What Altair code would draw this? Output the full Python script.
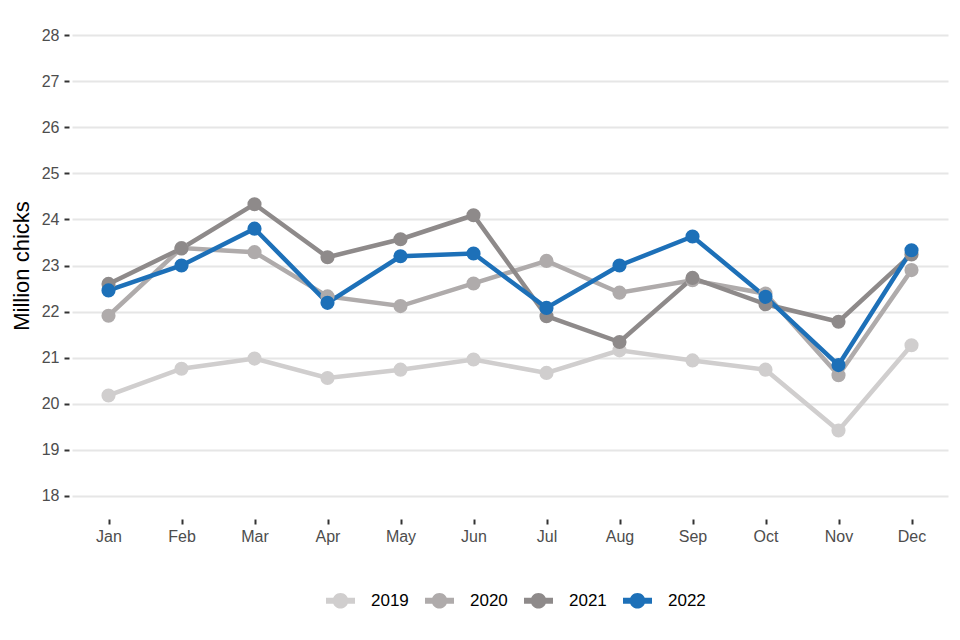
import altair as alt
import pandas as pd

months = ["Jan", "Feb", "Mar", "Apr", "May", "Jun", "Jul", "Aug", "Sep", "Oct", "Nov", "Dec"]
years = ["2019", "2020", "2021", "2022"]
colors = ["#D0CECE", "#AFABAB", "#8E8A8A", "#1D70B8"]

v2019 = [20.18, 20.76, 20.98, 20.56, 20.74, 20.96, 20.67, 21.16, 20.94, 20.74, 19.42, 21.27]
v2020 = [21.91, 23.38, 23.29, 22.33, 22.12, 22.61, 23.10, 22.41, 22.68, 22.39, 20.62, 22.90]
v2021 = [22.60, 23.37, 24.33, 23.18, 23.57, 24.09, 21.90, 21.34, 22.73, 22.16, 21.78, 23.24]
v2022 = [22.46, 23.00, 23.80, 22.19, 23.20, 23.26, 22.08, 23.00, 23.63, 22.32, 20.84, 23.33]

series = {"2019": v2019, "2020": v2020, "2021": v2021, "2022": v2022}
rows = []
for y in years:
    for m, v in zip(months, series[y]):
        rows.append({"month": m, "year": y, "value": v})
df = pd.DataFrame(rows)

x = alt.X("month:N", sort=months, title=None,
          scale=alt.Scale(type="point", padding=0.5),
          axis=alt.Axis(labelAngle=0, domain=False, grid=False, ticks=True,
                        tickSize=5, tickWidth=2, tickColor="#333333",
                        labelPadding=4, labelFontSize=16, labelColor="#4D4D4D",
                        labelFont="Liberation Sans"))
y = alt.Y("value:Q", title="Million chicks",
          scale=alt.Scale(domain=[17.5, 28.5], nice=False, zero=False),
          axis=alt.Axis(values=list(range(18, 29)), domain=False, grid=True,
                        gridColor="#E6E6E6", gridWidth=2,
                        tickSize=5, tickWidth=2, tickColor="#333333", offset=3,
                        labelPadding=5, labelFontSize=16, labelColor="#4D4D4D",
                        labelFont="Liberation Sans",
                        titleFont="Liberation Sans", titleFontSize=22,
                        titleFontWeight="normal", titleColor="#000000",
                        titlePadding=8))

symbol_path = ("M-1,-0.2L1,-0.2L1,0.2L-1,0.2Z "
               "M0.54,0A0.54,0.54 0 1,1 -0.54,0A0.54,0.54 0 1,1 0.54,0Z")

color = alt.Color("year:N", title=None,
                  scale=alt.Scale(domain=years, range=colors),
                  legend=alt.Legend(orient="none", direction="horizontal",
                                    legendX=254, legendY=574,
                                    symbolType=symbol_path, symbolSize=841,
                                    symbolStrokeWidth=0,
                                    labelFontSize=17, labelFont="Liberation Sans",
                                    labelColor="#000000", labelOffset=16,
                                    columnPadding=16))

lines = alt.Chart(df).mark_line(strokeWidth=4.5).encode(x=x, y=y, color=color)
points = alt.Chart(df).mark_point(filled=True, size=200, opacity=1).encode(
    x=x, y=y, color=color, order=alt.Order("year:N"))

chart = alt.layer(lines, points).properties(
    width=876, height=507,
    background="white",
    autosize=alt.AutoSizeParams(type="none"),
    padding={"left": 64, "top": 4, "right": 4, "bottom": 110},
).configure_view(stroke=None, strokeWidth=0)

chart.save("out.html", embed_options={"renderer": "svg", "actions": False})
